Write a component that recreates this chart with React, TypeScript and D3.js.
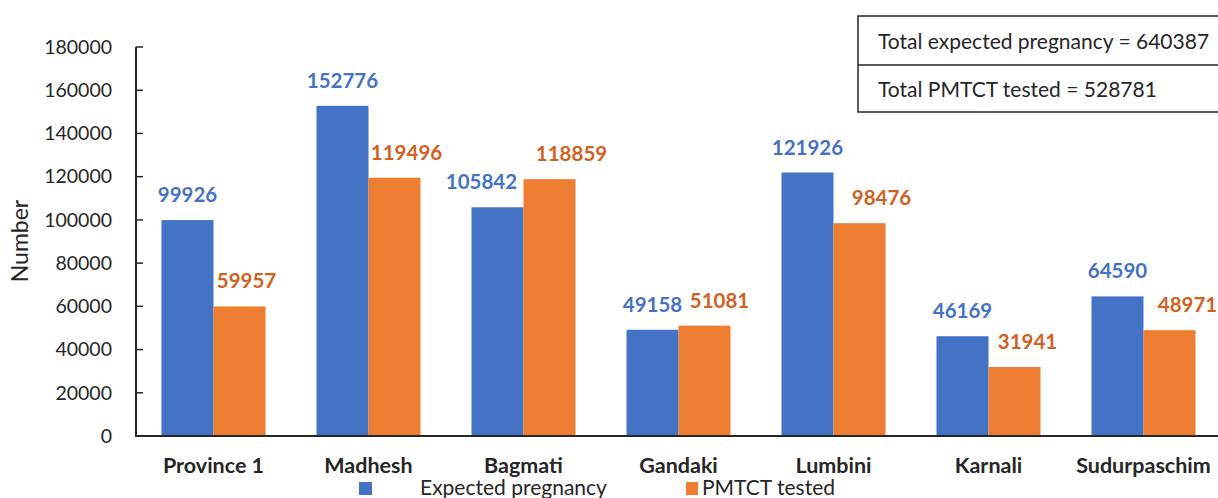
import React from "react";
import * as d3 from "d3";

const categories = ["Province 1", "Madhesh", "Bagmati", "Gandaki", "Lumbini", "Karnali", "Sudurpaschim"];
const expectedPregnancy = [99926, 152776, 105842, 49158, 121926, 46169, 64590];
const pmtctTested = [59957, 119496, 118859, 51081, 98476, 31941, 48971];
const seriesNames = ["Expected pregnancy", "PMTCT tested"];
const yTicks = [0, 20000, 40000, 60000, 80000, 100000, 120000, 140000, 160000, 180000];
const summaryLines = ["Total expected pregnancy = 640387", "Total PMTCT tested = 528781"];

// layout: horizontal nudges of the data labels (as in the reference)
const labelNudge = [
  [0, 0, -16, 0, 0, 0, 0],
  [7, 12, 22, 15, 22, 13, 18],
];

const W = 1218;
const H = 498;
const FONT = "Lato, 'Open Sans', sans-serif";
const BLUE = "#4472C4";
const ORANGE = "#ED7D31";
const BLUE_TXT = "#4472C4";
const ORANGE_TXT = "#D2601F";

export default function App() {
  const left = 136;
  const right = left + 155 * categories.length;
  const top = 47;
  const bottom = 436;

  const x0 = d3.scaleBand<string>().domain(categories).range([left, right]).paddingInner(0.329).paddingOuter(0.1645);
  const x1 = d3.scaleBand<number>().domain([0, 1]).range([0, x0.bandwidth()]);
  const y = d3.scaleLinear().domain([0, 180000]).range([bottom, top]);

  const series = [expectedPregnancy, pmtctTested];
  const colors = [BLUE, ORANGE];
  const txtColors = [BLUE_TXT, ORANGE_TXT];

  return (
    <svg width={W} height={H} style={{ position: "absolute", left: 0, top: 0, fontFamily: FONT }}>
      <rect x={0} y={0} width={W} height={H} fill="#fff" />
      {/* bars */}
      {categories.map((c, i) =>
        series.map((s, k) => (
          <rect
            key={c + k}
            x={(x0(c) as number) + (x1(k) as number)}
            y={y(s[i])}
            width={x1.bandwidth()}
            height={bottom - y(s[i])}
            fill={colors[k]}
          />
        ))
      )}
      {/* value labels */}
      {categories.map((c, i) =>
        series.map((s, k) => (
          <text
            key={"l" + c + k}
            x={(x0(c) as number) + (x1(k) as number) + x1.bandwidth() / 2 + labelNudge[k][i]}
            y={y(s[i]) - 18}
            textAnchor="middle"
            fontSize={20.5}
            fontWeight="bold"
            fill={txtColors[k]}
          >
            {s[i]}
          </text>
        ))
      )}
      {/* y axis */}
      <line x1={left} x2={left} y1={top} y2={bottom} stroke="#262626" strokeWidth={2} />
      {yTicks.map((t) => (
        <g key={t}>
          <line x1={left} x2={left + 7} y1={y(t)} y2={y(t)} stroke="#262626" strokeWidth={1.5} />
          <text x={112} y={y(t)} dy="0.35em" textAnchor="end" fontSize={19.5} fill="#262626">
            {t}
          </text>
        </g>
      ))}
      {/* x axis */}
      <line x1={left - 1} x2={W} y1={bottom} y2={bottom} stroke="#262626" strokeWidth={2} />
      {categories.map((c) => (
        <text
          key={"c" + c}
          x={(x0(c) as number) + x0.bandwidth() / 2}
          y={473}
          textAnchor="middle"
          fontSize={21.5}
          fontWeight="bold"
          fill="#262626"
        >
          {c}
        </text>
      ))}
      {/* y title */}
      <text transform={`translate(28,241) rotate(-90)`} textAnchor="middle" fontSize={23} fill="#262626">
        Number
      </text>
      {/* legend */}
      <rect x={359} y={482} width={13} height={13} fill={BLUE} />
      <text x={420} y={495} fontSize={21} fill="#262626">{seriesNames[0]}</text>
      <rect x={686} y={482} width={12} height={13} fill={ORANGE} />
      <text x={702} y={495} fontSize={21} fill="#262626">{seriesNames[1]}</text>
      {/* summary box */}
      <rect x={858} y={16} width={W} height={96} fill="#fff" stroke="#262626" strokeWidth={1.5} />
      <line x1={858} x2={W} y1={65} y2={65} stroke="#262626" strokeWidth={1.5} />
      {summaryLines.map((l, i) => (
        <text key={l} x={878} y={49 + i * 48} fontSize={21} fill="#262626">
          {l}
        </text>
      ))}
    </svg>
  );
}
